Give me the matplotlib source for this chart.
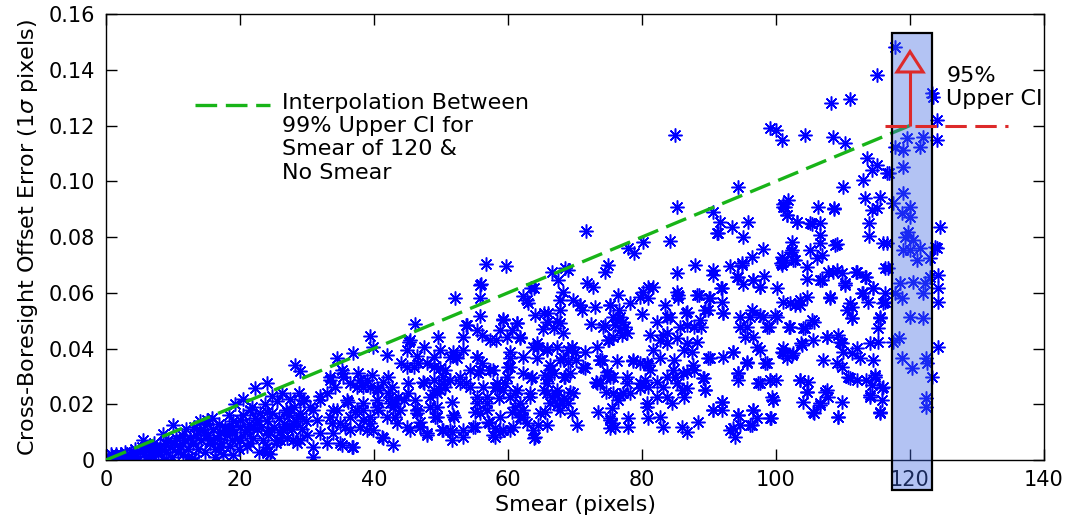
import matplotlib
matplotlib.use("Agg")
import matplotlib.pyplot as plt
from matplotlib.patches import Rectangle, Polygon

# smear (pixels), offset error (1 sigma pixels), grouped by smear range
pts_0_20 = [
    (0.3, 0.001), (0.5, 0.0), (0.8, 0.002), (1, 0.001), (1.2, 0.0005), (1.5, 0.002), (1.8, 0.001),
    (2, 0.0), (2.2, 0.002), (2.5, 0.001), (2.8, 0.003), (3, 0.0015), (3.2, 0.0005), (3.3, 0.0),
    (3.5, 0.002), (3.8, 0.003), (4, 0.001), (4.3, 0.004), (4.5, 0.002), (4.8, 0.0), (5, 0.003),
    (5.3, 0.0045), (5.5, 0.007), (5.7, 0.002), (6, 0.004), (6.2, 0.001), (6.3, 0.0), (6.5, 0.005),
    (6.8, 0.003), (7, 0.0015), (7.2, 0.006), (7.5, 0.004), (7.8, 0.002), (8, 0.005), (8.3, 0.0035),
    (8.5, 0.0095), (8.8, 0.006), (8.9, 0.0005), (9, 0.003), (9.2, 0.007), (9.5, 0.0045), (9.8, 0.001),
    (10, 0.0125), (10.2, 0.006), (10.5, 0.008), (10.7, 0.003), (11, 0.005), (11.3, 0.009), (11.5, 0.002),
    (11.8, 0.007), (12, 0.011), (12.2, 0.004), (12.2, 0.001), (12.5, 0.008), (12.8, 0.0007), (13, 0.006),
    (13.2, 0.012), (13.3, 0.0), (13.5, 0.009), (13.8, 0.004), (14, 0.014), (14, 0.0108), (14.2, 0.007),
    (14.5, 0.011), (14.7, 0.003), (15, 0.013), (15.1, 0.0143), (15.2, 0.009), (15.5, 0.006), (15.5, 0.0072),
    (15.8, 0.015), (16, 0.011), (16.2, 0.004), (16.3, 0.001), (16.5, 0.008), (16.8, 0.013), (17, 0.010),
    (17, 0.0047), (17.2, 0.006), (17.5, 0.002), (17.8, 0.012), (18, 0.009), (18.1, 0.0108), (18.3, 0.016),
    (18.5, 0.005), (18.5, 0.0108), (18.8, 0.011), (18.8, 0.0072), (19, 0.014), (19, 0.0018), (19.3, 0.020),
    (19.5, 0.008), (19.8, 0.004),
]
pts_20_34 = [
    (20, 0.012), (20, 0.0143), (20, 0.0072), (20.4, 0.022), (20.5, 0.016), (20.8, 0.010), (21, 0.005),
    (21, 0.0108), (21.3, 0.013), (21.5, 0.018), (21.5, 0.0061), (21.8, 0.019), (21.9, 0.0118), (22, 0.008),
    (22.2, 0.026), (22.3, 0.015), (22.5, 0.011), (22.5, 0.0143), (22.8, 0.003), (23, 0.017), (23.2, 0.012),
    (23.5, 0.007), (23.8, 0.020), (24, 0.0276), (24, 0.014), (24, 0.0172), (24, 0.0025), (24, 0.0047),
    (24.2, 0.009), (24.2, 0.0108), (24.5, 0.002), (24.8, 0.023), (24.8, 0.017), (25, 0.012), (25.3, 0.006),
    (25.5, 0.021), (25.5, 0.0072), (25.8, 0.015), (26, 0.010), (26, 0.0072), (26.3, 0.024), (26.4, 0.0108),
    (26.5, 0.013), (26.8, 0.018), (27, 0.008), (27, 0.0172), (27, 0.0118), (27.3, 0.016), (27.5, 0.022),
    (27.8, 0.011), (27.9, 0.0133), (27.9, 0.0072), (28, 0.019), (28.2, 0.034), (28.3, 0.014), (28.5, 0.006),
    (28.8, 0.024), (29, 0.032), (29, 0.017), (29, 0.0072), (29, 0.0154), (29.3, 0.011), (29.4, 0.0215),
    (29.5, 0.021), (29.8, 0.014), (30, 0.009), (30.4, 0.019), (30.9, 0.001), (30.9, 0.0047), (30.9, 0.0179),
    (31.5, 0.0143), (31.9, 0.0097), (31.9, 0.0215), (32, 0.023), (33, 0.024), (33, 0.0061), (33.4, 0.0287),
    (33.4, 0.0154), (33.4, 0.0298), (33.7, 0.0133), (33.9, 0.0097), (33.9, 0.0179),
]
pts_34_50 = [
    (34.2, 0.0262), (34.5, 0.0366), (34.5, 0.0179), (34.9, 0.0061), (35.2, 0.0323), (35.2, 0.0054),
    (35.4, 0.0312), (35.7, 0.0118), (36, 0.0215), (36.1, 0.0208), (36.4, 0.0276), (36.4, 0.0108),
    (36.7, 0.0047), (36.9, 0.0384), (36.9, 0.0047), (37.2, 0.0172), (37.5, 0.0262), (37.6, 0.0312),
    (37.9, 0.0118), (38.4, 0.0262), (38.4, 0.0204), (38.4, 0.0179), (38.9, 0.0108), (38.9, 0.0287),
    (39.4, 0.0445), (39.4, 0.0154), (39.4, 0.0133), (39.7, 0.0305), (39.9, 0.0405), (40.4, 0.0215),
    (40.4, 0.0258), (40.6, 0.0251), (40.6, 0.0179), (41.2, 0.0083), (41.3, 0.0079), (41.9, 0.0377),
    (41.9, 0.0154), (42.1, 0.0298), (42.4, 0.0204), (42.4, 0.0226), (42.7, 0.0262), (42.8, 0.0054),
    (42.8, 0.019), (43.1, 0.0154), (43.6, 0.0226), (44.9, 0.0118), (45.1, 0.0276), (45.1, 0.024),
    (45.2, 0.0423), (46.1, 0.0488), (46.1, 0.0215), (46.4, 0.0373), (46.4, 0.0169), (46.4, 0.0179),
    (46.9, 0.0136), (47.3, 0.028), (47.9, 0.009), (48.4, 0.0226), (49.4, 0.024), (49.4, 0.0154),
    (49.6, 0.044), (49.9, 0.033),
    (35.4, 0.0299), (37.9, 0.0287), (39.4, 0.0263), (41.4, 0.0281), (42.1, 0.0239), (43.1, 0.0203),
    (43.9, 0.0179), (40.4, 0.0191), (37.4, 0.0179), (36.4, 0.0155), (38.4, 0.0143), (34.9, 0.0131),
    (39.9, 0.0107), (43.4, 0.0131), (45.4, 0.0107), (46.9, 0.0119), (48.4, 0.0191), (49.9, 0.0251),
    (44.1, 0.0347), (45.9, 0.0335), (47.9, 0.0347), (48.9, 0.0371),
    (44.9, 0.0395), (44.9, 0.0335), (44.4, 0.0215), (46.4, 0.018), (46.9, 0.012), (47.9, 0.0096),
    (47.4, 0.0275), (48.9, 0.0335), (48.9, 0.0251), (49.4, 0.0191), (49.1, 0.0156), (49.8, 0.0395),
    (47.4, 0.0407), (45.4, 0.043), (46.6, 0.0347), (48.9, 0.0287),
]
pts_50_70 = [
    (50.3, 0.0298), (50.3, 0.0108), (50.6, 0.0262), (51.6, 0.0072), (51.8, 0.0387), (51.9, 0.0154),
    (52.1, 0.058), (52.4, 0.0366), (52.8, 0.0276), (53.3, 0.044), (53.3, 0.0108), (53.9, 0.0484),
    (54.3, 0.0323), (54.3, 0.0262), (55.1, 0.0118), (55.1, 0.0172), (55.4, 0.037), (55.4, 0.0204),
    (55.5, 0.0312), (55.8, 0.058), (55.8, 0.0517), (55.8, 0.0628), (56, 0.063), (56.1, 0.0448),
    (56.7, 0.0703), (56.9, 0.0226), (57, 0.0136), (57.3, 0.0323), (58.1, 0.0083), (58.2, 0.043),
    (58.4, 0.0262), (59.3, 0.0506), (59.3, 0.0108), (59.7, 0.0696), (59.9, 0.0298), (60, 0.0334),
    (60.3, 0.0366), (60.6, 0.0466), (60.6, 0.0172), (61, 0.024), (61.3, 0.049), (61.8, 0.0438),
    (62.2, 0.059), (62.2, 0.0312), (62.2, 0.0154), (63, 0.0563), (63.3, 0.0226), (63.6, 0.0298),
    (63.7, 0.0405), (63.9, 0.0617), (63.9, 0.0079), (64, 0.052), (64, 0.0083), (64.5, 0.0405),
    (64.5, 0.0126), (65.2, 0.047), (65.5, 0.0172), (65.8, 0.0276), (65.8, 0.0126), (65.8, 0.024),
    (66, 0.0527), (66, 0.0298), (66.3, 0.0341), (66.6, 0.0675), (67.3, 0.05), (67.3, 0.0233),
    (67.3, 0.0197), (67.5, 0.0646), (67.8, 0.0538), (67.8, 0.0574), (68, 0.0204), (68.2, 0.0603),
    (68.2, 0.0366), (68.2, 0.0455), (68.5, 0.0689), (68.5, 0.0298), (69, 0.068), (69, 0.0352),
    (69, 0.0204), (69.3, 0.0244), (69.6, 0.0405), (69.6, 0.0169), (69.7, 0.024),
    (51.3, 0.0287), (52.8, 0.0299), (53.8, 0.0275), (55.3, 0.0227), (56.3, 0.0263), (58.3, 0.0275),
    (59.3, 0.0251), (60.3, 0.0227), (61.8, 0.0203), (63.3, 0.0239), (65.3, 0.0251), (66.5, 0.0227),
    (67.8, 0.0179), (56.8, 0.0179), (58.8, 0.0155), (60.8, 0.0119), (63.8, 0.0107), (51.3, 0.0107),
    (53.3, 0.0083), (54.8, 0.0119), (57.8, 0.0089), (50.6, 0.0323), (56.1, 0.0347), (57.8, 0.0323),
    (60.3, 0.0335), (62.3, 0.0371), (66.3, 0.0323), (68.3, 0.0299), (65.8, 0.04), (64.3, 0.0418),
    (50.3, 0.0275), (51.6, 0.0209), (51.8, 0.0161), (50.1, 0.0108), (51.6, 0.0102), (52.3, 0.0371),
    (53.3, 0.0395), (55.3, 0.0371), (55.8, 0.0323), (55.8, 0.0168), (56.8, 0.0203), (57.1, 0.0132),
    (58.1, 0.0114), (58.8, 0.0102), (58.1, 0.0263), (58.6, 0.0221), (59.6, 0.0275), (60.3, 0.0389),
    (61.3, 0.0251), (61.0, 0.0191), (62.3, 0.018), (61.8, 0.0156), (63.5, 0.0293), (65.5, 0.0305),
    (67.3, 0.0251), (68.3, 0.0221), (69.0, 0.0395), (69.5, 0.0407), (69.7, 0.0574), (65.3, 0.0526),
    (65.8, 0.0496), (66.8, 0.0472), (67.8, 0.049), (62.8, 0.0574), (63.5, 0.0616), (61.3, 0.049),
    (61.8, 0.0442), (59.3, 0.0502), (58.8, 0.0466), (59.8, 0.0442), (57.3, 0.043), (55.3, 0.0466),
    (53.8, 0.0484), (51.3, 0.0371), (67.3, 0.0407), (67.8, 0.0359), (65.8, 0.0395), (64.3, 0.0365),
    (66.8, 0.0311), (69.3, 0.0311), (66.3, 0.0203), (64.8, 0.0167), (62.8, 0.0132), (60.3, 0.0108),
]
pts_70_85 = [
    (70, 0.0387), (70.3, 0.0126), (70.7, 0.0556), (71, 0.0538), (71.2, 0.0334), (71.5, 0.0387),
    (71.6, 0.0822), (71.8, 0.0635), (72.4, 0.0488), (72.7, 0.062), (73, 0.0549), (73.1, 0.028),
    (73.3, 0.0405), (73.3, 0.0276), (73.4, 0.0172), (73.7, 0.0359), (74, 0.0359), (74.5, 0.0675),
    (74.5, 0.0484), (74.6, 0.0244), (74.8, 0.0305), (74.9, 0.07), (74.9, 0.043), (75.2, 0.0556),
    (75.2, 0.0298), (75.2, 0.0143), (75.2, 0.0115), (75.5, 0.0187), (75.5, 0.0133), (76, 0.0484),
    (76, 0.0118), (76.3, 0.0355), (76.4, 0.0592), (76.4, 0.0215), (76.7, 0.0513), (76.7, 0.0233),
    (77, 0.0448), (77.2, 0.024), (77.5, 0.0477), (77.8, 0.0298), (77.9, 0.076), (77.9, 0.0151),
    (77.9, 0.0118), (78.2, 0.0563), (78.7, 0.0355), (78.8, 0.0742), (79.7, 0.0585), (79.7, 0.0258),
    (80, 0.0524), (80.1, 0.0782), (80.4, 0.0287), (80.7, 0.0348), (80.7, 0.0204), (80.9, 0.062),
    (80.9, 0.0151), (80.9, 0.0341), (81.2, 0.0448), (81.2, 0.0323), (82.2, 0.0495), (82.2, 0.0226),
    (82.7, 0.0366), (83.1, 0.0448), (83.1, 0.0262), (83.1, 0.0118), (83.4, 0.0556), (83.7, 0.042),
    (83.7, 0.0298), (84.2, 0.0786), (84.2, 0.0513), (84.5, 0.0204), (84.6, 0.0323), (84.9, 0.1166),
    (84.9, 0.0298),
    (70.2, 0.0359), (71.5, 0.0329), (73.7, 0.0359), (74.7, 0.0317), (75.7, 0.0299), (73.7, 0.0275),
    (75.7, 0.0239), (77.7, 0.0275), (78.2, 0.0239), (79.7, 0.0275), (80.9, 0.0263), (82.2, 0.0281),
    (83.7, 0.0227), (74.2, 0.0478), (76.2, 0.0502), (75.7, 0.0442), (76.7, 0.0466), (77.7, 0.0454),
    (78.7, 0.0359), (79.7, 0.0347), (81.7, 0.0395), (82.7, 0.043), (83.7, 0.0454), (84.7, 0.0359),
    (70.7, 0.0556), (75.2, 0.0556), (75.7, 0.0514), (76.5, 0.0538), (77.2, 0.0496), (75.0, 0.043),
    (80.2, 0.0604), (81.7, 0.0622), (80.9, 0.058), (83.7, 0.0514), (75.2, 0.015), (80.7, 0.0191),
    (82.7, 0.0156),
]
pts_85_100 = [
    (85.2, 0.0908), (85.2, 0.0671), (85.2, 0.0438), (85.4, 0.0592), (85.7, 0.0477), (86, 0.0251),
    (86, 0.0118), (86.1, 0.0312), (86.6, 0.0527), (86.7, 0.0484), (86.7, 0.0316), (86.7, 0.01),
    (87.5, 0.0387), (87.6, 0.0341), (87.9, 0.07), (88.2, 0.0423), (88.4, 0.0136), (88.5, 0.0592),
    (88.7, 0.0502), (88.8, 0.0477), (89.1, 0.0294), (89.4, 0.0251), (89.9, 0.0538), (89.9, 0.0366),
    (90, 0.0581), (90.6, 0.089), (90.6, 0.0682), (90.6, 0.0179), (91.2, 0.0814), (91.6, 0.0854),
    (91.8, 0.0617), (91.9, 0.0567), (91.9, 0.0179), (91.9, 0.0208), (92.1, 0.0527), (92.1, 0.037),
    (93.1, 0.0696), (93.1, 0.0108), (93.4, 0.0836), (93.6, 0.0387), (93.9, 0.0083), (94.2, 0.0657),
    (94.3, 0.098), (94.3, 0.0161), (94.3, 0.0312), (94.3, 0.0287), (94.6, 0.0513), (94.6, 0.0126),
    (94.9, 0.07), (95.1, 0.08), (95.1, 0.0631), (95.7, 0.0477), (95.7, 0.0348), (95.8, 0.0854),
    (96.4, 0.0728), (96.4, 0.0538), (96.4, 0.0126), (96.6, 0.0646), (96.6, 0.0441), (96.6, 0.0179),
    (97.2, 0.0151), (97.3, 0.0276), (97.6, 0.062), (97.6, 0.0395), (98.1, 0.0757), (98.1, 0.0513),
    (98.2, 0.066), (98.4, 0.0348), (99, 0.0477), (99.1, 0.119), (99.1, 0.0287), (99.3, 0.0151),
    (99.4, 0.0226), (99.6, 0.0215), (100, 0.1184), (100, 0.0287), (100.1, 0.0513),
    (85.2, 0.0275), (86.7, 0.0257), (87.7, 0.0323), (86.2, 0.0395), (86.7, 0.0418), (87.7, 0.0478),
    (85.2, 0.0604), (85.4, 0.058), (88.2, 0.0592), (86.7, 0.0532), (86.2, 0.0227),
    (91.4, 0.0813), (90.6, 0.0664), (94.9, 0.0705), (94.4, 0.0658), (96.6, 0.0646), (97.6, 0.0622),
    (91.9, 0.0616), (90.2, 0.058), (89.4, 0.0538), (92.1, 0.0526), (96.1, 0.0514), (97.6, 0.052),
    (99.9, 0.052), (94.6, 0.0478), (95.4, 0.0442), (97.1, 0.0407), (98.6, 0.0478), (98.6, 0.0347),
    (95.6, 0.0353), (93.6, 0.0389), (90.2, 0.0365), (89.2, 0.0293), (89.4, 0.0251), (94.4, 0.0311),
    (97.6, 0.0275), (99.1, 0.0287), (99.6, 0.0215), (91.9, 0.0209), (90.6, 0.0179), (94.4, 0.0161),
    (96.6, 0.0179), (96.1, 0.0125), (93.6, 0.0114), (99.1, 0.0149),
]
pts_100_117 = [
    (100.9, 0.1148), (100.9, 0.0728), (100.9, 0.07), (100.9, 0.0387), (101, 0.092), (101, 0.071),
    (101, 0.0567), (101, 0.0402), (101.3, 0.0908), (101.6, 0.0879), (101.6, 0.0366), (101.8, 0.0933),
    (101.9, 0.0477), (102.4, 0.0782), (102.4, 0.0753), (102.4, 0.0377), (102.5, 0.0717), (102.8, 0.0556),
    (103.1, 0.0854), (103.6, 0.0574), (103.6, 0.0287), (103.9, 0.0413), (104, 0.0474), (104, 0.0208),
    (104.3, 0.1166), (104.6, 0.0692), (104.6, 0.0649), (104.6, 0.0244), (104.8, 0.028), (105.1, 0.0753),
    (105.4, 0.0847), (105.4, 0.0502), (105.5, 0.043), (105.5, 0.0172), (106.1, 0.0725), (106.3, 0.0908),
    (106.6, 0.085), (106.6, 0.0807), (106.6, 0.0778), (106.6, 0.0646), (106.6, 0.0197), (106.9, 0.0735),
    (107, 0.0359), (107.3, 0.0244), (107.6, 0.0441), (107.8, 0.0226), (108.1, 0.0581), (108.2, 0.128),
    (108.5, 0.1159), (108.5, 0.0675), (108.7, 0.09), (109.1, 0.0775), (109.1, 0.0348), (109.3, 0.0448),
    (109.3, 0.0154), (109.9, 0.0671), (109.9, 0.042), (109.9, 0.0334), (109.9, 0.0208), (110, 0.098),
    (110, 0.0387), (110.3, 0.1137), (110.3, 0.0635), (110.6, 0.0538), (110.7, 0.0298), (111, 0.1295),
    (111, 0.0563), (111.3, 0.0509), (112.1, 0.0675), (112.1, 0.0402), (112.1, 0.0287), (112.5, 0.0366),
    (112.8, 0.0599), (113, 0.1004), (113.3, 0.094), (113.3, 0.0657), (113.6, 0.1083), (113.7, 0.0567),
    (113.9, 0.085), (113.9, 0.0804), (114, 0.042), (114, 0.0233), (114.3, 0.104), (114.3, 0.0897),
    (114.3, 0.0269), (114.5, 0.0617), (114.5, 0.0359), (114.8, 0.0305), (115.1, 0.138), (115.1, 0.1058),
    (115.1, 0.0904), (115.2, 0.0474), (115.2, 0.0423), (115.5, 0.0944), (115.5, 0.0509), (115.5, 0.0172),
    (115.8, 0.0215), (116, 0.0778), (116, 0.0563), (116, 0.0262), (116.3, 0.0689), (116.3, 0.0599),
    (116.3, 0.0567), (116.6, 0.103), (116.6, 0.0778), (116.7, 0.0689), (116.9, 0.103),
    (101.1, 0.0909), (101.7, 0.0879), (103.1, 0.0855), (105.1, 0.0849), (108.6, 0.0903), (102.3, 0.0747),
    (108.8, 0.0771), (100.8, 0.0706), (102.8, 0.0717), (100.1, 0.0616), (102.1, 0.0562), (103.6, 0.0556),
    (104.6, 0.0586), (106.8, 0.0646), (107.8, 0.0676), (109.1, 0.0682), (112.0, 0.0676), (113.5, 0.0658),
    (110.3, 0.0628), (108.1, 0.0586), (111.3, 0.055), (111.3, 0.0508), (113.0, 0.0598), (114.5, 0.0616),
    (115.5, 0.0514), (102.1, 0.0478), (104.3, 0.0472), (105.6, 0.0496), (107.6, 0.0442), (109.6, 0.0424),
    (111.3, 0.0383), (103.8, 0.0418), (101.1, 0.0383), (102.6, 0.0383), (103.6, 0.0287), (104.6, 0.0245),
    (107.6, 0.0251), (106.6, 0.0203), (105.6, 0.0167), (109.3, 0.0155), (111.0, 0.0293), (113.5, 0.0287),
    (114.8, 0.0299), (115.8, 0.0257), (114.0, 0.0227), (115.5, 0.0167),
]
pts_117_125 = [
    (117.5, 0.0922), (117.5, 0.0423), (117.8, 0.148), (117.8, 0.1123), (117.8, 0.0599), (118.3, 0.0438),
    (118.5, 0.0635), (118.8, 0.0886), (118.8, 0.0581), (118.8, 0.0366), (119, 0.1112), (119, 0.1051),
    (119, 0.0958), (119, 0.0753), (119.3, 0.08), (119.6, 0.1155), (119.7, 0.0818), (120, 0.0908),
    (120, 0.0872), (120, 0.0753), (120, 0.0513), (120.3, 0.033), (120.4, 0.0789), (120.4, 0.0639),
    (121, 0.0717), (121.5, 0.1123), (121.5, 0.076), (121.9, 0.1159), (121.9, 0.0599), (121.9, 0.0509),
    (122.2, 0.0635), (122.4, 0.0366), (122.4, 0.0222), (122.4, 0.019), (122.5, 0.0348), (123, 0.0725),
    (123, 0.0657), (123.3, 0.1317), (123.3, 0.0298), (123.4, 0.1302), (123.7, 0.0764), (124, 0.122),
    (124, 0.1148), (124, 0.076), (124.2, 0.0664), (124.2, 0.0617), (124.2, 0.0567), (124.2, 0.0405),
    (124.5, 0.0836),
]

# interpolation line, 95% CI marker
interp_smear = [0, 120]
interp_err = [0, 0.12]
ci_smear = 120
ci99 = 0.12
ci95_top = 0.1465
band_left, band_right = 117.3, 123.3
ci_line_x = [116.3, 134.6]

xticks = [0, 20, 40, 60, 80, 100, 120, 140]
yticks = [0, 0.02, 0.04, 0.06, 0.08, 0.10, 0.12, 0.14, 0.16]
ytick_labels = ["0", "0.02", "0.04", "0.06", "0.08", "0.10", "0.12", "0.14", "0.16"]

all_pts = pts_0_20 + pts_20_34 + pts_34_50 + pts_50_70 + pts_70_85 + pts_85_100 + pts_100_117 + pts_117_125
xs = [p[0] for p in all_pts]
ys = [p[1] for p in all_pts]

green = "#18b418"
red = "#dd2a2a"

fig = plt.figure(figsize=(10.7, 5.25), dpi=100)
ax = fig.add_axes([0.0991, 0.1238, 0.8766, 0.8495])

ax.plot(xs, ys, linestyle="none", marker=(8, 2, 0), ms=10, mew=1.1, color="blue", zorder=2)
ax.plot(interp_smear, interp_err, color=green, lw=2.4, dashes=(6.5, 2.6), zorder=3)
ax.plot(ci_line_x, [ci99, ci99], color=red, lw=2.2, dashes=(7, 2.8), zorder=6, clip_on=False)

# band around smear = 120
ax.add_patch(Rectangle((band_left, -0.0108), band_right - band_left, 0.164,
                       facecolor="royalblue", alpha=0.4, edgecolor="none", zorder=5, clip_on=False))
ax.add_patch(Rectangle((band_left, -0.0108), band_right - band_left, 0.164,
                       facecolor="none", edgecolor="black", lw=1.6, zorder=5.5, clip_on=False))

# arrow up from the 99% CI
head_len = 0.0073
head_hw = 1.95
ax.plot([ci_smear, ci_smear], [ci99, ci95_top - head_len], color=red, lw=2.2, zorder=6,
        solid_capstyle="butt")
ax.add_patch(Polygon([[ci_smear - head_hw, ci95_top - head_len], [ci_smear + head_hw, ci95_top - head_len],
                      [ci_smear, ci95_top]], closed=True, fill=False, edgecolor=red, lw=2.2, zorder=6))
ax.text(125.4, 0.1335, "95%\nUpper CI", fontsize=16, ha="left", va="center", linespacing=1.2)

# legend drawn by hand so the key sits on the first text line
ax.plot([0.0949, 0.1748], [0.796, 0.796], transform=ax.transAxes, color=green, lw=2.4, dashes=(6.5, 2.6))
ax.text(0.1876, 0.823, "Interpolation Between\n99% Upper CI for\nSmear of 120 &\nNo Smear",
        transform=ax.transAxes, fontsize=16, ha="left", va="top", linespacing=1.2)

ax.set_xlim(0, 140)
ax.set_ylim(0, 0.16)
ax.set_xticks(xticks)
ax.set_yticks(yticks)
ax.set_yticklabels(ytick_labels)
ax.tick_params(direction="in", length=8, width=1, labelsize=15, top=True, right=True)
ax.tick_params(axis="y", pad=8)
ax.tick_params(axis="x", pad=7)
for s in ax.spines.values():
    s.set_linewidth(1.0)

ax.set_xlabel("Smear (pixels)", fontsize=16, labelpad=4)
ax.set_ylabel("Cross-Boresight Offset Error (1$\\sigma$ pixels)", fontsize=16, labelpad=6)

fig.savefig("out.png", dpi=100)
